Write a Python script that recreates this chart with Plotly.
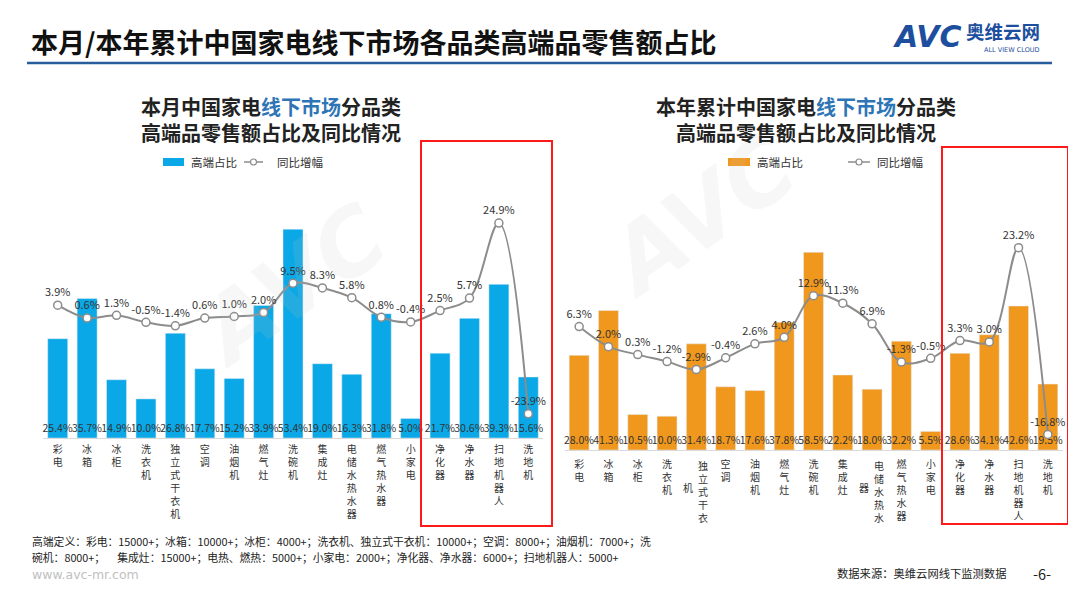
import plotly.graph_objects as go

# ---------------- data ----------------
categories = ["彩电", "冰箱", "冰柜", "洗衣机", "独立式干衣机", "空调", "油烟机", "燃气灶",
              "洗碗机", "集成灶", "电储水热水器", "燃气热水器", "小家电", "净化器", "净水器",
              "扫地机器人", "洗地机"]
month_share = [25.4, 35.7, 14.9, 10.0, 26.8, 17.7, 15.2, 33.9, 53.4, 19.0, 16.3, 31.8, 5.0,
               21.7, 30.6, 39.3, 15.6]
month_yoy = [3.9, 0.6, 1.3, -0.5, -1.4, 0.6, 1.0, 2.0, 9.5, 8.3, 5.8, 0.8, -0.4, 2.5, 5.7,
             24.9, -23.9]
ytd_share = [28.0, 41.3, 10.5, 10.0, 31.4, 18.7, 17.6, 37.8, 58.5, 22.2, 18.0, 32.2, 5.5,
             28.6, 34.1, 42.6, 19.5]
ytd_yoy = [6.3, 2.0, 0.3, -1.2, -2.9, -0.4, 2.6, 4.0, 12.9, 11.3, 6.9, -1.3, -0.5, 3.3, 3.0,
           23.2, -16.8]

series_bar = "高端占比"
series_line = "同比增幅"

title_text = "本月/本年累计中国家电线下市场各品类高端品零售额占比"
left_title = ["本月中国家电<span style='color:#2E75B6'>线下市场</span>分品类", "高端品零售额占比及同比情况"]
right_title = ["本年累计中国家电<span style='color:#2E75B6'>线下市场</span>分品类", "高端品零售额占比及同比情况"]
footer1 = "高端定义：彩电：15000+；冰箱：10000+；冰柜：4000+；洗衣机、独立式干衣机：10000+；空调：8000+；油烟机：7000+；洗"
footer2 = "碗机：8000+；     集成灶：15000+；电热、燃热：5000+；小家电：2000+；净化器、净水器：6000+；扫地机器人：5000+"
source_text = "数据来源：奥维云网线下监测数据"
site_text = "www.avc-mr.com"
page_text = "-6-"

# ---------------- style ----------------
W, H = 1076, 604
OFF = 8  # page body offset
FONT = "Noto Sans CJK SC"
BLUE = "#0AA8E6"
ORANGE = "#F0981E"
LINE = "#8C8C8C"
TXT = "#333333"
TICK_SIZE = 10


def px(x):
    return (x - OFF) / W


def py(y):
    return 1 - (y - OFF) / H


def vertical(label):
    return "<br>".join(label)


left_ticks = [vertical(c) for c in categories]
# the right chart renders two long labels offset, with their last char shifted to the left
odd_labels = ("独立式干衣机", "电储水热水器")
right_ticks = ["" if c in odd_labels else vertical(c) for c in categories]

fig = go.Figure()

bar_text = dict(size=10.5, color=TXT, family=FONT)
line_text = dict(size=11, color=TXT, family=FONT)

# left chart
fig.add_trace(go.Bar(x=categories, y=month_share, marker_color=BLUE, name=series_bar,
                     texttemplate="%{y:.1f}%", textposition="inside", insidetextanchor="start",
                     textangle=0, textfont=bar_text, constraintext="none",
                     cliponaxis=False, xaxis="x", yaxis="y", showlegend=False))
fig.add_trace(go.Scatter(x=categories, y=month_yoy, mode="lines+markers+text", name=series_line,
                         line=dict(color=LINE, width=2, shape="spline", smoothing=1.0),
                         marker=dict(size=8, color="white", line=dict(color=LINE, width=1.5)),
                         texttemplate="%{y:.1f}%", textposition="top center",
                         textfont=line_text, cliponaxis=False,
                         xaxis="x", yaxis="y2", showlegend=False))
# right chart
fig.add_trace(go.Bar(x=categories, y=ytd_share, marker_color=ORANGE, name=series_bar,
                     texttemplate="%{y:.1f}%", textposition="inside", insidetextanchor="start",
                     textangle=0, textfont=bar_text, constraintext="none",
                     cliponaxis=False, xaxis="x2", yaxis="y3", showlegend=False))
fig.add_trace(go.Scatter(x=categories, y=ytd_yoy, mode="lines+markers+text", name=series_line,
                         line=dict(color=LINE, width=2, shape="spline", smoothing=1.0),
                         marker=dict(size=8, color="white", line=dict(color=LINE, width=1.5)),
                         texttemplate="%{y:.1f}%", textposition="top center",
                         textfont=line_text, cliponaxis=False,
                         xaxis="x2", yaxis="y4", showlegend=False))

ncat = len(categories)
xcommon = dict(showgrid=False, zeroline=False, showline=True, linecolor="#D9D9D9", linewidth=1,
               ticks="", tickfont=dict(size=TICK_SIZE, color=TXT, family=FONT), tickmode="array",
               tickvals=categories, tickangle=0, fixedrange=True, automargin=False,
               range=[-0.5, ncat - 0.5], autorange=False)
yhidden = dict(showgrid=False, zeroline=False, showline=False, showticklabels=False, ticks="",
               automargin=False, autorange=False)

fig.update_layout(
    width=W, height=H, margin=dict(l=0, r=0, t=0, b=0, autoexpand=False),
    paper_bgcolor="white", plot_bgcolor="rgba(0,0,0,0)",
    bargap=0.32, showlegend=False,
    font=dict(family=FONT, color=TXT),
    xaxis=dict(xcommon, domain=[px(43), px(543)], anchor="y", ticktext=left_ticks,
               ticklabelstandoff=2),
    yaxis=dict(yhidden, domain=[py(438), py(180)], range=[0, 258 / 3.91], anchor="x"),
    yaxis2=dict(yhidden, overlaying="y", range=[-(438 - 320.4) / 3.91, (320.4 - 180) / 3.91],
                anchor="x"),
    xaxis2=dict(xcommon, domain=[px(564.5), px(1062.5)], anchor="y3", ticktext=right_ticks,
                ticklabelstandoff=5),
    yaxis3=dict(yhidden, domain=[py(450), py(190)], range=[0, 260 / 3.38], anchor="x2"),
    yaxis4=dict(yhidden, overlaying="y3", range=[-(450 - 356) / 4.67, (356 - 190) / 4.67],
                anchor="x2"),
)

ann = []
shapes = []

# header
ann.append(dict(x=px(29), y=py(42), xref="paper", yref="paper", xanchor="left", yanchor="middle",
                text="<b>" + title_text + "</b>", showarrow=False,
                font=dict(size=27, color="#111111", family=FONT)))
shapes.append(dict(type="line", xref="paper", yref="paper", x0=px(27), x1=px(1052), y0=py(63),
                   y1=py(63), line=dict(color="#275D9C", width=2.5)))
# logo
ann.append(dict(x=px(891), y=py(37), xref="paper", yref="paper", xanchor="left", yanchor="middle",
                text="<b><i>AVC</i></b>", showarrow=False,
                font=dict(size=30, color="#1D4F9E", family="DejaVu Sans")))
ann.append(dict(x=px(964), y=py(31), xref="paper", yref="paper", xanchor="left", yanchor="middle",
                text="<b>奥维云网</b>", showarrow=False,
                font=dict(size=18.5, color="#1D4F9E", family=FONT)))
ann.append(dict(x=px(1012), y=py(49.5), xref="paper", yref="paper", xanchor="center", yanchor="middle",
                text="ALL VIEW CLOUD", showarrow=False,
                font=dict(size=6.5, color="#1D4F9E", family="DejaVu Sans")))

# watermarks
for (wx, wy) in [(175, 180), (700, 215)]:
    ann.append(dict(x=px(wx), y=py(wy), xref="paper", yref="paper", text="<b><i>AVC</i></b>",
                    showarrow=False, textangle=-35,
                    font=dict(size=90, color="rgba(200,200,200,0.14)", family="DejaVu Sans")))

# sub titles
for cx, lines in [(271, left_title), (806, right_title)]:
    ann.append(dict(x=px(cx), y=py(119), xref="paper", yref="paper", xanchor="center",
                    yanchor="middle", align="center",
                    text="<b>" + lines[0] + "</b><br><b>" + lines[1] + "</b>", showarrow=False,
                    font=dict(size=20, color="#222222", family=FONT)))

# legends
for (r0, r1, t1, l0, l1, t2, col) in [(163, 184, 189, 244, 263, 275, BLUE),
                                       (728, 750, 755, 848, 870, 875, ORANGE)]:
    ly = 162
    shapes.append(dict(type="rect", xref="paper", yref="paper", x0=px(r0), x1=px(r1),
                       y0=py(ly + 4), y1=py(ly - 4), fillcolor=col, line=dict(width=0)))
    ann.append(dict(x=px(t1), y=py(ly), xref="paper", yref="paper", xanchor="left",
                    yanchor="middle", text=series_bar, showarrow=False,
                    font=dict(size=11.5, color=TXT, family=FONT)))
    shapes.append(dict(type="line", xref="paper", yref="paper", x0=px(l0), x1=px(l1),
                       y0=py(ly), y1=py(ly), line=dict(color=LINE, width=1.5)))
    shapes.append(dict(type="circle", xref="paper", yref="paper", x0=px((l0 + l1) / 2 - 3),
                       x1=px((l0 + l1) / 2 + 3), y0=py(ly + 3), y1=py(ly - 3),
                       fillcolor="white", line=dict(color=LINE, width=1.2)))
    ann.append(dict(x=px(t2), y=py(ly), xref="paper", yref="paper", xanchor="left",
                    yanchor="middle", text=series_line, showarrow=False,
                    font=dict(size=11.5, color=TXT, family=FONT)))

# offset labels on the right chart
for c in odd_labels:
    ann.append(dict(x=c, y=py(456), xref="x2", yref="paper", xshift=7, xanchor="center",
                    yanchor="top", text=vertical(c[:-1]), showarrow=False,
                    font=dict(size=TICK_SIZE, color=TXT, family=FONT)))
    ann.append(dict(x=c, y=py(488), xref="x2", yref="paper", xshift=-8, xanchor="center",
                    yanchor="middle", text=c[-1], showarrow=False,
                    font=dict(size=TICK_SIZE, color=TXT, family=FONT)))

# red highlight boxes
shapes.append(dict(type="rect", xref="paper", yref="paper", x0=px(421), x1=px(552), y0=py(526),
                   y1=py(141), line=dict(color="#FF1A1A", width=2), fillcolor="rgba(0,0,0,0)"))
shapes.append(dict(type="rect", xref="paper", yref="paper", x0=px(942), x1=px(1068), y0=py(524),
                   y1=py(147), line=dict(color="#FF1A1A", width=2), fillcolor="rgba(0,0,0,0)"))

# footer
ann.append(dict(x=px(30), y=py(541), xref="paper", yref="paper", xanchor="left", yanchor="middle",
                text=footer1, showarrow=False, font=dict(size=10.8, color="#222222", family=FONT)))
ann.append(dict(x=px(30), y=py(557), xref="paper", yref="paper", xanchor="left", yanchor="middle",
                text=footer2, showarrow=False, font=dict(size=10.8, color="#222222", family=FONT)))
ann.append(dict(x=px(30), y=py(574), xref="paper", yref="paper", xanchor="left", yanchor="middle",
                text=site_text, showarrow=False, font=dict(size=12.5, color="#C0C0C0", family="DejaVu Sans")))
ann.append(dict(x=px(1008), y=py(573), xref="paper", yref="paper", xanchor="right", yanchor="middle",
                text=source_text, showarrow=False, font=dict(size=11.3, color="#222222", family=FONT)))
ann.append(dict(x=px(1042), y=py(573), xref="paper", yref="paper", xanchor="center", yanchor="middle",
                text=page_text, showarrow=False, font=dict(size=14.5, color="#222222", family=FONT)))

fig.update_layout(annotations=ann, shapes=shapes)
fig.write_html("out.html")
